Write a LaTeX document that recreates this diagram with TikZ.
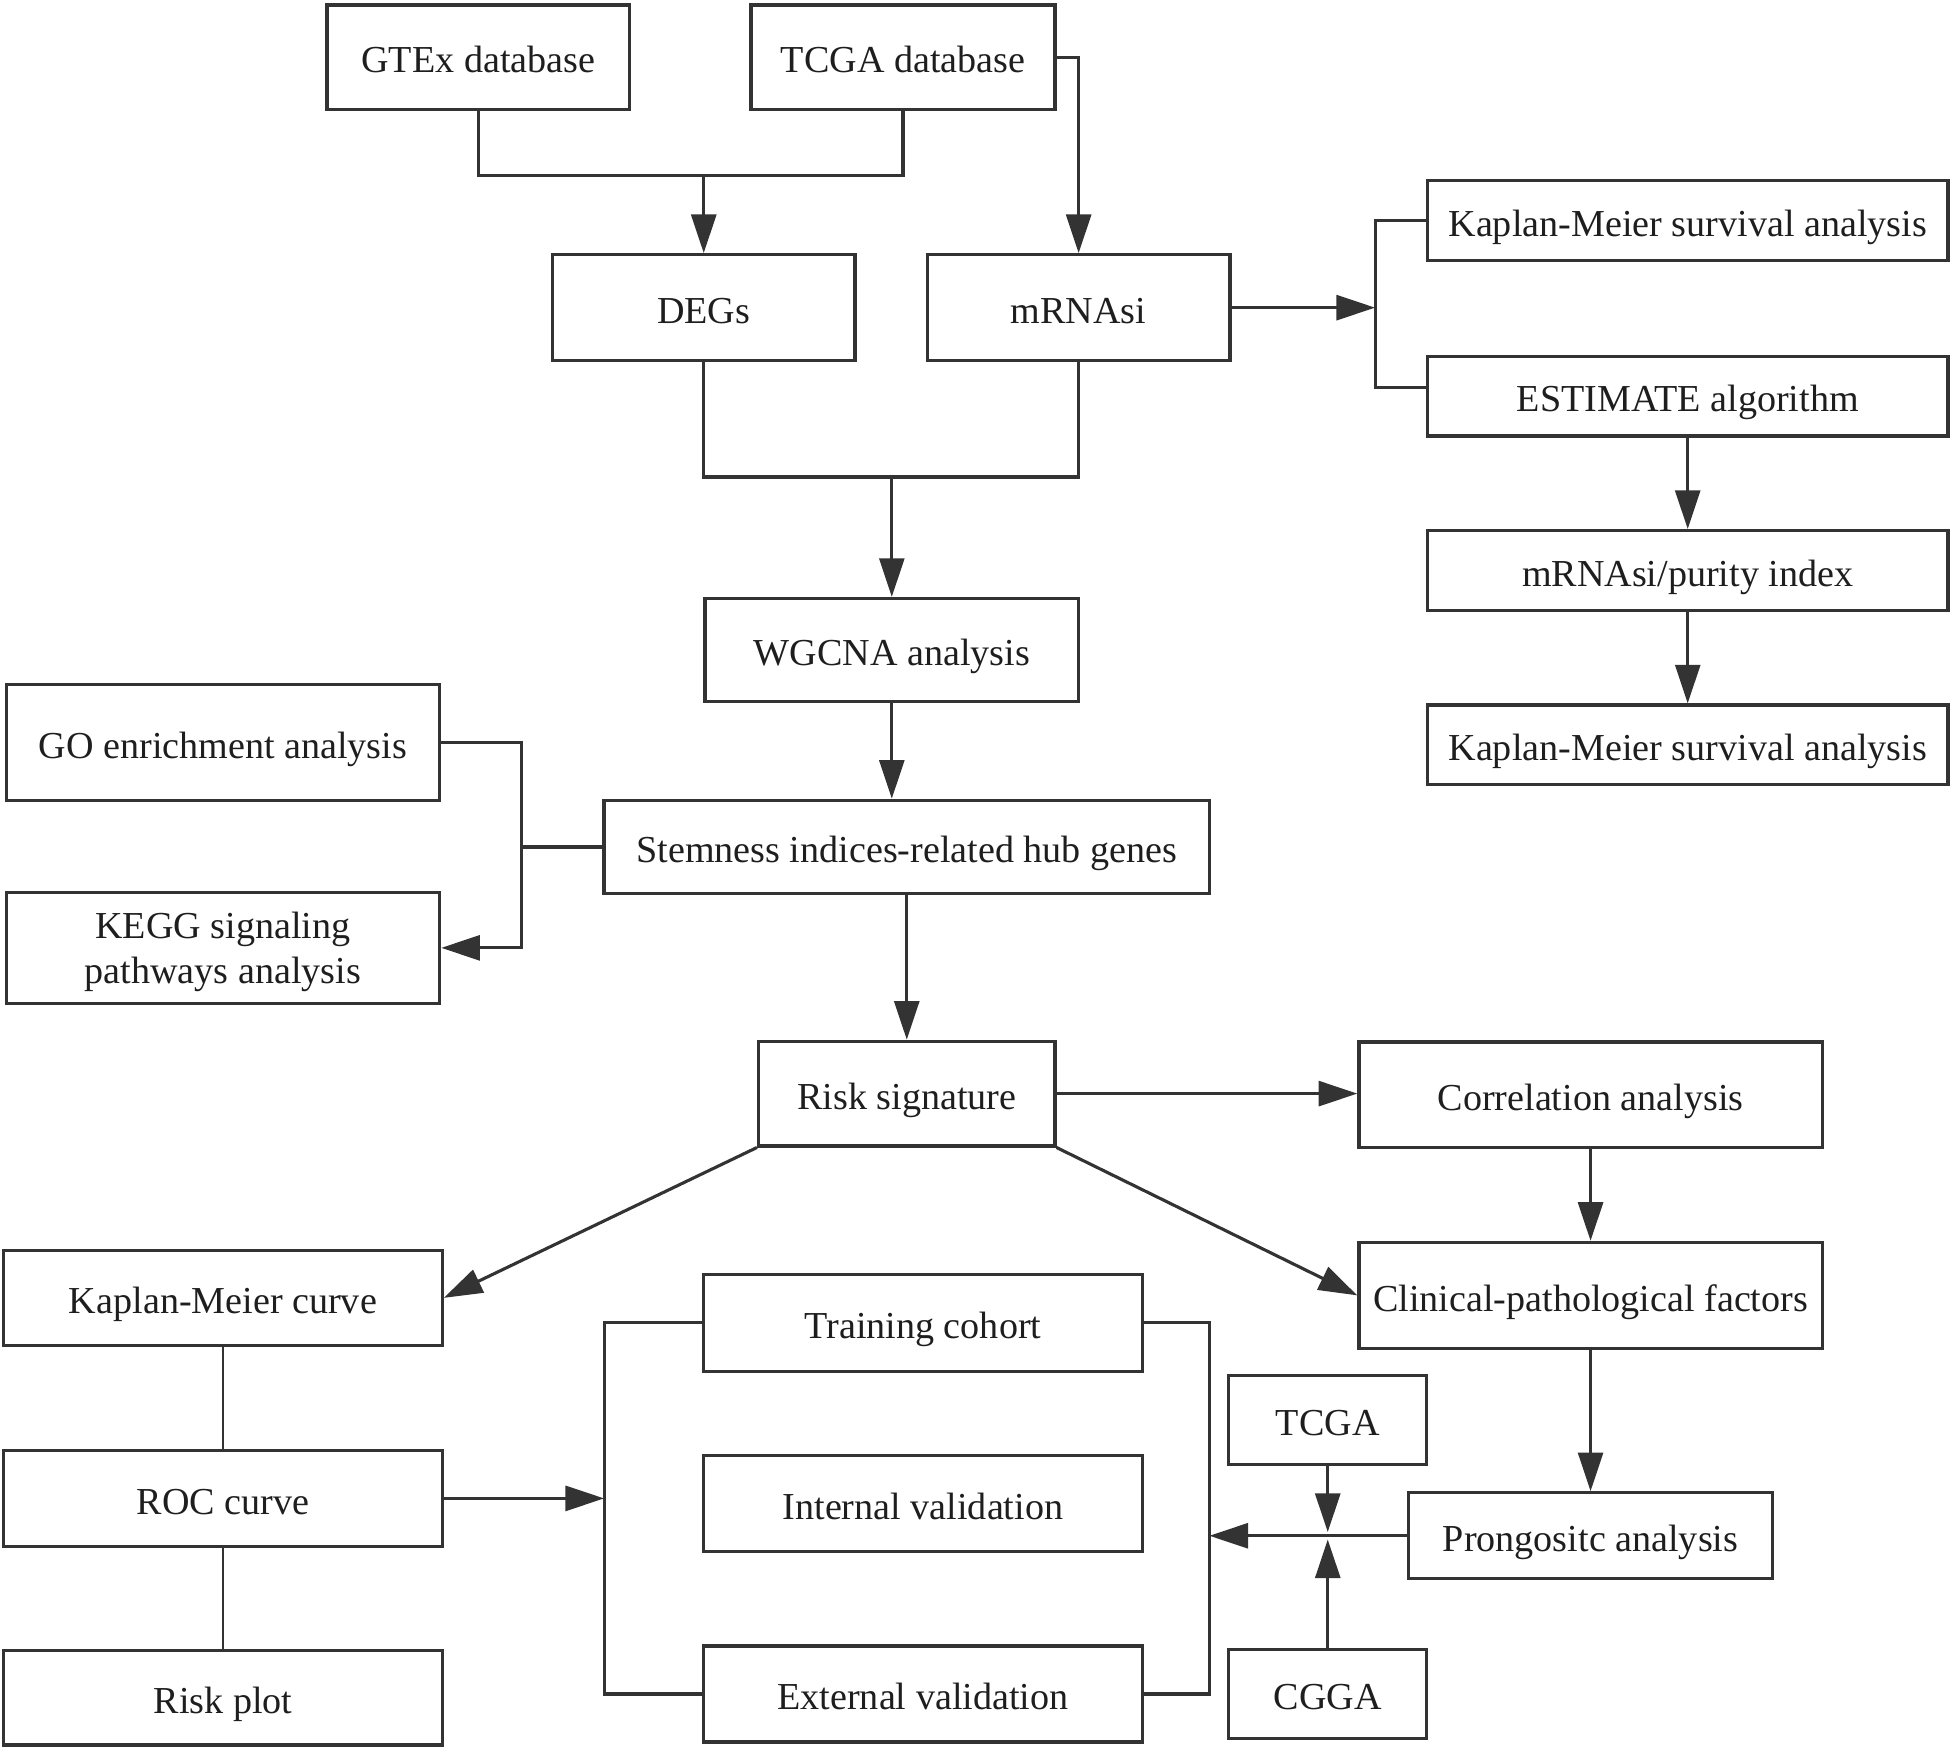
\documentclass[tikz,border=0pt]{standalone}
\usepackage{fontspec}
\setmainfont{Liberation Serif}
\usetikzlibrary{arrows.meta}
\definecolor{linec}{HTML}{333333}
\definecolor{textc}{HTML}{1E1E1E}
\begin{document}
\begin{tikzpicture}[x=1pt,y=-1pt,
  box/.style={draw=linec, line width=2.6pt, inner sep=0pt, align=center, text=textc,
    font=\fontsize{30.6}{36.5}\selectfont},
  bx/.style={box, text height=27pt, text depth=1.8pt},
  wh/.style 2 args={minimum width=#1pt, minimum height=#2pt},
  lc/.style={draw=linec, line width=2.5pt},
  thin/.style={draw=linec, line width=1.7pt},
  arr/.style={-{Triangle[length=31pt,width=20pt]}}
]
\useasboundingbox (0,0) rectangle (1568,1406);

% top
\node[bx, wh={243}{84}] (gtex) at (384,46) {GTEx database};
\node[bx, wh={244}{84}] (tcgadb) at (725,46) {TCGA database};
\node[bx, wh={243}{85}] (degs) at (565,247) {DEGs};
\node[bx, wh={243}{85}] (mrnasi) at (866,247) {mRNAsi};

% right column
\node[bx, wh={418}{64}] (km1) at (1355,177) {Kaplan-Meier survival analysis};
\node[bx, wh={418}{64}] (est) at (1355,318) {ESTIMATE algorithm};
\node[bx, wh={418}{64}] (pur) at (1355,458) {mRNAsi/purity index};
\node[bx, wh={418}{64}] (km2) at (1355,598) {Kaplan-Meier survival analysis};

% middle
\node[bx, wh={300}{83}] (wgcna) at (716,522) {WGCNA analysis};
\node[bx, wh={486}{75}] (stem) at (728,680) {Stemness indices-related hub genes};
\node[bx, wh={348}{93}] (go) at (179,596) {GO enrichment analysis};
\node[box, wh={348}{89}] (kegg) at (179,761) {\rule{0pt}{27.3pt}KEGG signaling\\pathways analysis};

\node[bx, wh={238}{84}] (risk) at (728,878) {Risk signature};
\node[bx, wh={372}{85}] (corr) at (1277,879) {Correlation analysis};
\node[bx, wh={372}{85}] (clin) at (1277,1040) {Clinical-pathological factors};

% bottom left
\node[bx, wh={352}{76}] (kmc) at (179,1042) {Kaplan-Meier curve};
\node[bx, wh={352}{77}] (roc) at (179,1203) {ROC curve};
\node[bx, wh={352}{76}] (rplot) at (179,1363) {Risk plot};

% bottom middle
\node[bx, wh={352}{78}] (train) at (741,1062) {Training cohort};
\node[bx, wh={352}{77}] (intv) at (741,1207) {Internal validation};
\node[bx, wh={352}{77}] (extv) at (741,1360) {External validation};

% bottom right
\node[bx, wh={292}{69}] (prog) at (1277,1233) {Prongositc analysis};
\node[bx, wh={159}{71}] (tcga) at (1066,1140) {TCGA};
\node[bx, wh={159}{71}] (cgga) at (1066,1360) {CGGA};

% junction coordinates
\coordinate (j1) at (565,141);
\coordinate (j2) at (716,383);
\coordinate (b1) at (1104,247);
\coordinate (b2) at (419,680);
\coordinate (b3) at (485,1203);
\coordinate (b4) at (971,1233);

% connectors top
\draw[lc] (gtex.south) -- (gtex.south |- j1) -- (tcgadb.south |- j1) -- (tcgadb.south);
\draw[lc,arr] (j1) -- (degs.north);
\draw[lc,arr] (tcgadb.east) -| (mrnasi.north);

\draw[lc,arr] (mrnasi.east) -- (b1);
\draw[lc] (km1.west) -- (km1.west -| b1) -- ([yshift=7pt]est.west -| b1) -- ([yshift=7pt]est.west);
\draw[lc,arr] (est.south) -- (pur.north);
\draw[lc,arr] (pur.south) -- (km2.north);

\draw[lc] (degs.south) -- (degs.south |- j2) -- (mrnasi.south |- j2) -- (mrnasi.south);
\draw[lc,arr] (j2) -- (wgcna.north);
\draw[lc,arr] (wgcna.south) -- (wgcna.south |- stem.north);

\draw[lc] (stem.west) -- (b2);
\draw[lc,arr] (go.east) -- (go.east -| b2) -- (kegg.east -| b2) -- (kegg.east);

\draw[lc,arr] (stem.south) -- (risk.north);
\draw[lc,arr] (risk.east) -- (risk.east -| corr.west);
\draw[lc,arr] (corr.south) -- (clin.north);
\draw[lc,arr] (risk.south east) -- (clin.west);
\draw[lc,arr] (risk.south west) -- (kmc.east);

\draw[thin] (kmc.south) -- (roc.north);
\draw[thin] (roc.south) -- (rplot.north);
\draw[lc,arr] (roc.east) -- (b3);
\draw[lc] (train.west) -- (train.west -| b3) -- (extv.west -| b3) -- (extv.west);
\draw[lc] (train.east) -- (train.east -| b4) -- (extv.east -| b4) -- (extv.east);

\draw[lc,arr] (clin.south) -- (prog.north);
\draw[lc,arr] (prog.west) -- (b4);
\draw[lc,arr,shorten >=3pt] (tcga.south) -- (tcga.south |- prog.west);
\draw[lc,arr,shorten >=3pt] (cgga.north) -- (cgga.north |- prog.west);
\end{tikzpicture}
\end{document}
